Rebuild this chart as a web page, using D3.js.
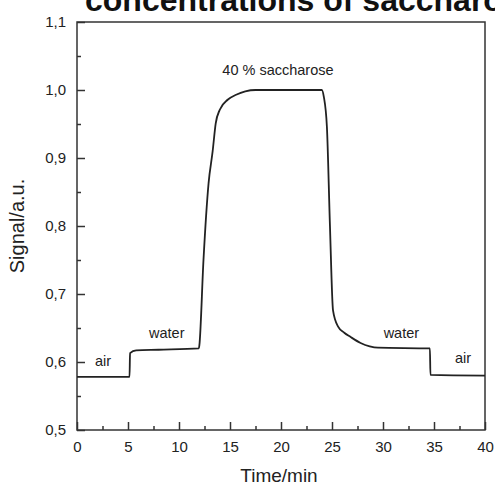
<!DOCTYPE html>
<html>
<head>
<meta charset="utf-8">
<script src="https://cdn.jsdelivr.net/npm/d3@7"></script>
<style>
  body { margin: 0; background: #fff; }
  svg { display: block; font-family: Arial, "Liberation Sans", sans-serif; }
</style>
</head>
<body>
<svg width="495" height="487"></svg>
<script>
// time (min) and signal (a.u.)
var time   = [0, 5.15, 5.2, 5.8, 8, 11.95, 12.0, 12.4, 12.9, 13.3, 13.6, 14.0, 14.8, 15.6, 16.5, 17.5, 20, 24.0, 24.2, 24.5, 24.8, 25.1, 25.6, 26.2, 26.8, 27.8, 28.7, 29.5, 34.6, 34.65, 40];
var signal = [0.578, 0.578, 0.613, 0.617, 0.618, 0.620, 0.625, 0.75, 0.863, 0.91, 0.951, 0.971, 0.986, 0.993, 0.998, 1.0, 1.0, 1.0, 0.99, 0.946, 0.80, 0.676, 0.652, 0.643, 0.637, 0.628, 0.623, 0.621, 0.620, 0.581, 0.580];

var xTicks = [0, 5, 10, 15, 20, 25, 30, 35, 40];
var yTicks = [0.5, 0.6, 0.7, 0.8, 0.9, 1.0, 1.1];
var xMinor = [2.5, 7.5, 12.5, 17.5, 22.5, 27.5, 32.5, 37.5];
var yMinor = [0.55, 0.65, 0.75, 0.85, 0.95, 1.05];

var labelText = ["air", "water", "40 % saccharose", "water", "air"];
var labelT    = [2.55, 8.8, 19.7, 31.8, 37.85];
var labelS    = [0.594, 0.635, 1.022, 0.636, 0.598];

var svg = d3.select("svg"),
    margin = {top: 22, right: 10, bottom: 57, left: 77},
    width = 495 - margin.left - margin.right,
    height = 487 - margin.top - margin.bottom,
    g = svg.append("g").attr("transform", "translate(" + margin.left + "," + margin.top + ")");

var x = d3.scaleLinear().domain([0, 40]).range([0, width]);
var y = d3.scaleLinear().domain([0.5, 1.1]).range([height, 0]);

var comma = function(d) { return d3.format(".1f")(d).replace(".", ","); };

// title, cut by the top edge as in the scan
svg.append("text")
    .attr("x", 85).attr("y", 11)
    .attr("font-size", 32).attr("font-weight", "bold")
    .attr("fill", "#111")
    .text("concentrations of saccharose");

g.append("g")
  .attr("transform", "translate(0," + height + ")")
  .call(d3.axisBottom(x).tickValues(xTicks).tickSize(-8).tickPadding(11).tickFormat(d3.format("d")))
  .call(function(a) { a.select(".domain").remove(); });

g.append("g")
  .attr("transform", "translate(0," + height + ")")
  .call(d3.axisBottom(x).tickValues(xMinor).tickSize(-4).tickFormat(""))
  .call(function(a) { a.select(".domain").remove(); });

g.append("g")
  .call(d3.axisLeft(y).tickValues(yTicks).tickSize(-8).tickPadding(11).tickFormat(comma))
  .call(function(a) { a.select(".domain").remove(); });

g.append("g")
  .call(d3.axisLeft(y).tickValues(yMinor).tickSize(-4).tickFormat(""))
  .call(function(a) { a.select(".domain").remove(); });

g.selectAll(".tick text").attr("font-size", 15).attr("fill", "#222")
  .attr("font-family", "Arial, 'Liberation Sans', sans-serif");
g.selectAll(".tick line").attr("stroke", "#333").attr("stroke-width", 1.5);

g.append("rect")
  .attr("width", width).attr("height", height)
  .attr("fill", "none").attr("stroke", "#333").attr("stroke-width", 1.5);

var line = d3.line()
  .x(function(d, i) { return x(time[i]); })
  .y(function(d) { return y(d); })
  .curve(d3.curveMonotoneX);

g.append("path")
  .datum(signal)
  .attr("fill", "none")
  .attr("stroke", "#222")
  .attr("stroke-width", 1.8)
  .attr("stroke-linejoin", "round")
  .attr("d", line);

labelText.forEach(function(t, i) {
  g.append("text")
    .attr("x", x(labelT[i])).attr("y", y(labelS[i]))
    .attr("text-anchor", "middle")
    .attr("font-size", 14.5).attr("fill", "#222")
    .text(t);
});

svg.append("text")
  .attr("x", 279).attr("y", 482)
  .attr("text-anchor", "middle").attr("font-size", 19).attr("fill", "#222")
  .text("Time/min");

svg.append("text")
  .attr("transform", "translate(24," + (margin.top + height / 2) + ") rotate(-90)")
  .attr("text-anchor", "middle").attr("font-size", 20).attr("fill", "#222")
  .text("Signal/a.u.");
</script>
</body>
</html>
